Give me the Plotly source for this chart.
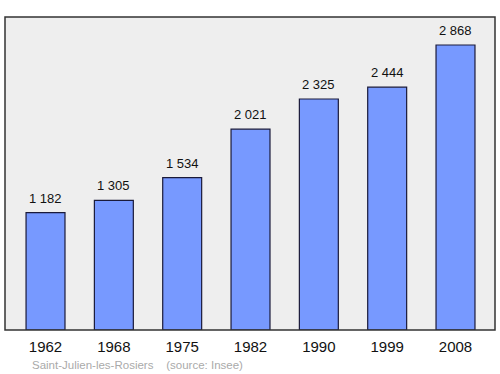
import plotly.graph_objects as go

years = ["1962", "1968", "1975", "1982", "1990", "1999", "2008"]
population = [1182, 1305, 1534, 2021, 2325, 2444, 2868]
labels = ["1 182", "1 305", "1 534", "2 021", "2 325", "2 444", "2 868"]

fig = go.Figure()
fig.add_trace(go.Bar(
    x=list(range(len(years))), y=population,
    width=0.57,
    marker=dict(color="#7799ff", line=dict(color="#1a1a3a", width=1.2)),
    hoverinfo="skip",
))

for i, (v, t) in enumerate(zip(population, labels)):
    fig.add_annotation(x=i, y=v, text=t, showarrow=False, yanchor="bottom",
                       yshift=5, font=dict(family="Liberation Sans, Arial", size=13, color="#111"))

fig.add_shape(type="rect", xref="paper", yref="paper", x0=0, y0=0, x1=1, y1=1,
              line=dict(color="#333", width=1.5), layer="above")

fig.add_annotation(xref="paper", yref="paper", x=0.05, y=-0.113, xanchor="left", yanchor="middle",
                   text="Saint-Julien-les-Rosiers&nbsp;&nbsp;&nbsp;&nbsp;(source: Insee)", showarrow=False,
                   font=dict(family="Liberation Sans, Arial", size=11.5, color="#aaaaaa"))

fig.update_layout(
    width=500, height=374,
    margin=dict(l=5, r=5, t=17, b=44),
    paper_bgcolor="white", plot_bgcolor="#eeeeee",
    showlegend=False,
    xaxis=dict(range=[-0.593, 6.578], tickmode="array", tickvals=list(range(len(years))),
               ticktext=years, showgrid=False, zeroline=False, ticks="",
               ticklabelstandoff=6,
               tickfont=dict(family="Liberation Sans, Arial", size=15, color="#111"), fixedrange=True),
    yaxis=dict(range=[0, 3150], showgrid=False, zeroline=False, showticklabels=False, fixedrange=True),
)

fig.write_html("out.html")
